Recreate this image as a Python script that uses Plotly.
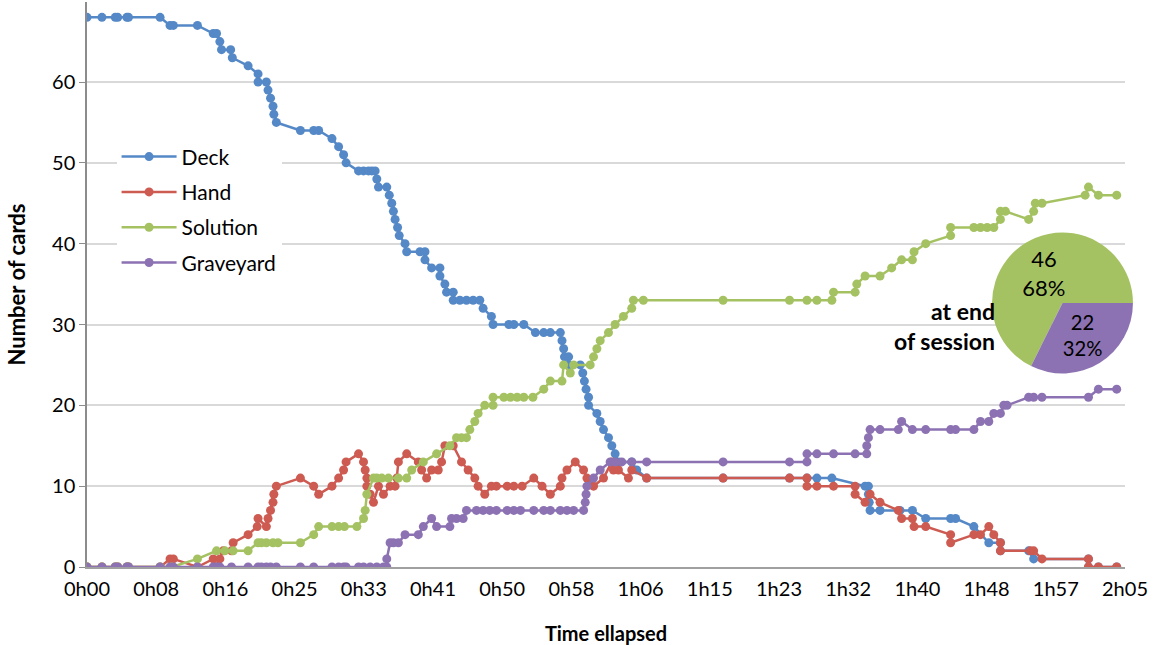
import plotly.graph_objects as go

# Card counts over a play session (minutes elapsed vs. number of cards)
deck_min = [0, 1.8, 3.4, 3.7, 4.8, 5.0, 8.8, 10.0, 10.4, 13.3, 15.2, 15.6, 16.0, 16.2, 17.3, 17.5,
            19.4, 20.6, 20.6, 21.6, 21.8, 22.1, 22.4, 22.5, 22.8, 25.7, 27.3, 27.9, 29.5, 30.3,
            30.9, 31.2, 32.7, 33.3, 33.9, 34.3, 34.7, 34.9, 35.1, 36.1, 36.4, 36.7, 36.9, 37.1,
            37.4, 37.6, 38.3, 38.5, 40.1, 40.7, 40.7, 41.5, 42.5, 42.5, 43.1, 43.3, 44.1, 44.1,
            44.9, 45.7, 46.5, 47.3, 47.7, 48.7, 48.9, 50.8, 51.4, 52.6, 54.0, 55.0, 55.8, 57.0,
            57.2, 57.4, 57.5, 58.0, 58.0, 59.4, 59.7, 59.9, 60.1, 60.4, 60.4, 61.4, 61.8, 62.2,
            62.8, 63.2, 63.6, 64.0, 65.6, 66.2, 67.4, 76.6, 84.6, 86.7, 87.9, 89.7, 93.7, 94.1,
            94.1, 94.2, 94.3, 95.5, 97.9, 99.4, 101.0, 104.0, 104.6, 106.8, 108.6, 110.0, 110.0,
            113.4, 114.0, 120.6, 120.6, 121.8, 124.0]
deck_cards = [68, 68, 68, 68, 68, 68, 68, 67, 67, 67, 66, 66, 65, 64, 64, 63,
              62, 61, 60, 60, 59, 58, 57, 56, 55, 54, 54, 54, 53, 52,
              51, 50, 49, 49, 49, 49, 49, 48, 47, 47, 46, 45, 44, 43,
              42, 41, 40, 39, 39, 39, 38, 37, 37, 36, 35, 34, 34, 33,
              33, 33, 33, 33, 32, 31, 30, 30, 30, 30, 29, 29, 29, 29,
              28, 27, 26, 26, 25, 25, 24, 23, 22, 21, 20, 19, 18, 17,
              16, 15, 14, 13, 13, 12, 11, 11, 11, 11, 11, 11, 10, 10,
              9, 8, 7, 7, 7, 7, 6, 6, 6, 5, 3, 3, 2,
              2, 1, 1, 0, 0, 0]

hand_min = [0, 1.8, 3.4, 3.7, 4.8, 5.0, 8.8, 10.0, 10.4, 13.3, 15.2, 15.5, 16.0, 16.4, 17.4, 17.6,
            19.4, 20.5, 20.6, 21.6, 21.8, 22.1, 22.4, 22.5, 22.8, 25.7, 27.3, 27.9, 29.5, 30.3,
            30.9, 31.2, 32.7, 33.3, 33.5, 33.7, 33.7, 34.1, 34.5, 35.1, 35.7, 36.5, 37.1, 37.3,
            37.5, 38.5, 39.9, 40.3, 40.9, 41.5, 42.3, 42.7, 43.1, 44.1, 45.1, 45.9, 46.7, 47.1,
            47.9, 48.7, 49.3, 50.6, 51.4, 52.4, 53.8, 54.8, 55.8, 57.0, 57.2, 57.8, 58.8, 59.8,
            60.2, 61.0, 62.2, 63.2, 63.4, 64.0, 65.2, 65.6, 67.4, 76.6, 84.6, 86.7, 86.7, 87.9,
            89.9, 92.5, 92.5, 93.7, 94.3, 95.5, 97.7, 98.1, 99.4, 99.6, 101.0, 104.0, 104.0,
            106.8, 107.6, 108.6, 109.2, 110.0, 110.0, 113.6, 114.0, 115.0, 120.6, 120.6, 121.8,
            124.0]
hand_cards = [0, 0, 0, 0, 0, 0, 0, 1, 1, 0, 1, 0, 1, 2, 2, 3,
              4, 5, 6, 5, 6, 7, 8, 9, 10, 11, 10, 9, 10, 11,
              12, 13, 14, 13, 12, 11, 10, 9, 8, 10, 9, 10, 10, 11,
              13, 14, 13, 12, 11, 12, 12, 13, 15, 15, 13, 12, 11, 10,
              9, 10, 10, 10, 10, 10, 11, 10, 9, 10, 11, 12, 13, 12,
              11, 10, 11, 13, 12, 12, 11, 12, 11, 11, 11, 11, 10, 10,
              10, 10, 9, 8, 9, 8, 7, 6, 6, 5, 5, 4, 3,
              4, 4, 5, 4, 3, 2, 2, 2, 1, 1, 0, 0,
              0]

solution_min = [0, 1.8, 3.4, 3.7, 4.8, 5.0, 8.8, 10.2, 13.3, 15.6, 16.6, 17.6, 19.4, 20.6, 21.0,
                21.6, 22.4, 23.0, 25.7, 27.3, 27.9, 29.5, 30.3, 31.0, 32.5, 33.3, 33.5, 33.7, 34.5,
                34.9, 35.5, 36.3, 37.5, 38.5, 39.1, 40.5, 42.1, 43.7, 44.5, 45.1, 45.7, 46.1, 46.7,
                47.1, 47.9, 48.9, 48.9, 50.2, 51.0, 51.8, 52.6, 53.7, 55.0, 55.8, 57.2, 57.4, 58.2,
                58.6, 60.6, 61.0, 61.4, 61.8, 62.8, 63.6, 64.6, 65.6, 65.8, 67.0, 76.6, 84.6, 86.7,
                87.9, 89.7, 89.9, 92.5, 92.7, 93.7, 95.5, 96.9, 98.1, 99.4, 99.6, 101.0, 104.0,
                104.0, 106.8, 107.6, 108.4, 109.2, 110.0, 110.0, 110.6, 113.4, 114.0, 114.2, 115.0,
                120.2, 120.6, 121.8, 124.0]
solution_cards = [0, 0, 0, 0, 0, 0, 0, 0, 1, 2, 2, 2, 2, 3, 3,
                  3, 3, 3, 3, 4, 5, 5, 5, 5, 5, 6, 7, 9, 11,
                  11, 11, 11, 11, 11, 12, 13, 14, 15, 16, 16, 16, 17, 18,
                  19, 20, 20, 21, 21, 21, 21, 21, 21, 22, 23, 23, 25, 24,
                  25, 25, 26, 27, 28, 29, 30, 31, 32, 33, 33, 33, 33, 33,
                  33, 33, 34, 34, 35, 36, 36, 37, 38, 38, 39, 40, 41,
                  42, 42, 42, 42, 42, 43, 44, 44, 43, 44, 45, 45,
                  46, 47, 46, 46]

graveyard_min = [0, 1.8, 3.4, 3.7, 4.8, 5.0, 8.8, 10.0, 10.4, 13.3, 15.2, 15.6, 16.0, 17.4, 19.4,
                 20.6, 21.0, 21.6, 22.1, 22.8, 25.7, 27.3, 29.5, 30.3, 30.9, 31.2, 32.7, 33.3, 34.1,
                 34.9, 35.7, 36.1, 36.1, 36.5, 36.9, 37.5, 38.3, 39.9, 40.5, 41.5, 42.1, 43.7, 43.9,
                 44.5, 45.3, 45.7, 46.9, 47.7, 48.5, 49.3, 50.6, 51.4, 52.2, 53.8, 55.0, 55.8, 57.0,
                 57.8, 58.6, 59.8, 60.0, 60.1, 60.2, 61.0, 61.8, 63.0, 63.6, 64.4, 65.6, 67.4, 76.6,
                 84.6, 86.7, 86.7, 87.9, 89.9, 92.5, 93.9, 93.9, 94.1, 94.3, 95.5, 97.7, 98.1, 99.4,
                 101.0, 104.0, 104.6, 106.8, 107.6, 108.6, 109.2, 110.0, 110.4, 110.8, 113.4, 114.0,
                 115.0, 120.6, 121.8, 124.0]
graveyard_cards = [0, 0, 0, 0, 0, 0, 0, 0, 0, 0, 0, 0, 0, 0, 0,
                   0, 0, 0, 0, 0, 0, 0, 0, 0, 0, 0, 0, 0, 0,
                   0, 0, 0, 1, 3, 3, 3, 4, 4, 5, 6, 5, 5, 6,
                   6, 6, 7, 7, 7, 7, 7, 7, 7, 7, 7, 7, 7, 7,
                   7, 7, 7, 8, 9, 10, 11, 12, 13, 13, 13, 13, 13, 13,
                   13, 13, 14, 14, 14, 14, 14, 15, 16, 17, 17, 17, 18, 17,
                   17, 17, 17, 17, 18, 18, 19, 19, 20, 20, 21, 21,
                   21, 21, 22, 22]

series = [
    ("Deck", deck_min, deck_cards, "#5588C6"),
    ("Hand", hand_min, hand_cards, "#CD5B52"),
    ("Solution", solution_min, solution_cards, "#A5C262"),
    ("Graveyard", graveyard_min, graveyard_cards, "#8C72B2"),
]

tick_labels = ["0h00", "0h08", "0h16", "0h25", "0h33", "0h41", "0h50", "0h58",
               "1h06", "1h15", "1h23", "1h32", "1h40", "1h48", "1h57", "2h05"]
session_length = 125  # minutes
tick_minutes = [i * session_length / (len(tick_labels) - 1) for i in range(len(tick_labels))]

FONT = "Lato"

fig = go.Figure()
for name, t, v, color in series:
    fig.add_trace(go.Scatter(
        x=t, y=v, name=name, mode="lines+markers", legendgroup=name,
        line=dict(color=color, width=2.5),
        marker=dict(color=color, size=9),
    ))

# Final split of the cards that left the deck
end_values = [solution_cards[-1], graveyard_cards[-1]]
fig.add_trace(go.Pie(
    values=end_values, labels=["Solution", "Graveyard"],
    marker=dict(colors=["#A5C262", "#8C72B2"], line=dict(width=0)),
    sort=False, direction="clockwise",
    rotation=90 - 360 * end_values[0] / sum(end_values),
    texttemplate="%{value}<br>%{percent:.0%}", textposition="inside",
    insidetextorientation="horizontal",
    textfont=dict(family=FONT, size=22, color="black"),
    domain=dict(x=[0.857, 0.9905], y=[0.3425, 0.592]),
    showlegend=False, hoverinfo="label+value+percent",
))

fig.add_shape(type="rect", xref="paper", yref="paper", x0=0.857, x1=1.0, y0=0.31, y1=0.595,
              fillcolor="white", line=dict(width=0), layer="between")

fig.add_annotation(text="<b>at end<br>of session</b>", xref="paper", yref="paper",
                   x=0.862, y=0.4265, xanchor="right", yanchor="middle", align="right",
                   showarrow=False, font=dict(family=FONT, size=23, color="black"))

fig.update_layout(
    width=1153, height=645,
    margin=dict(l=87, r=10, t=2, b=78),
    paper_bgcolor="white", plot_bgcolor="white",
    font=dict(family=FONT, size=20, color="black"),
    legend=dict(x=0.028, y=0.762, xanchor="left", yanchor="top", bgcolor="white",
                font=dict(family=FONT, size=21), tracegroupgap=5, itemwidth=55),
    xaxis=dict(
        domain=[0, 1038 / 1056], range=[0, session_length], automargin=False,
        tickvals=tick_minutes, ticktext=tick_labels, ticklabelstandoff=3,
        showgrid=False, zeroline=False,
        showline=True, linecolor="#A0A0A0", linewidth=2,
        ticks="", tickfont=dict(family=FONT, size=20, color="black"),
        title=dict(text="<b>Time ellapsed</b>", font=dict(family=FONT, size=20), standoff=30),
    ),
    yaxis=dict(
        range=[0, 69.9], tickvals=[0, 10, 20, 30, 40, 50, 60], automargin=False,
        showgrid=True, gridcolor="#D9D9D9", gridwidth=1.5, zeroline=False,
        showline=True, linecolor="#8C8C8C", linewidth=1.5,
        ticks="outside", ticklen=6, tickcolor="#8C8C8C",
        tickfont=dict(family=FONT, size=20, color="black"),
        title=dict(text="<b>Number of cards</b>", font=dict(family=FONT, size=22), standoff=20),
    ),
)

fig.write_html("out.html")
